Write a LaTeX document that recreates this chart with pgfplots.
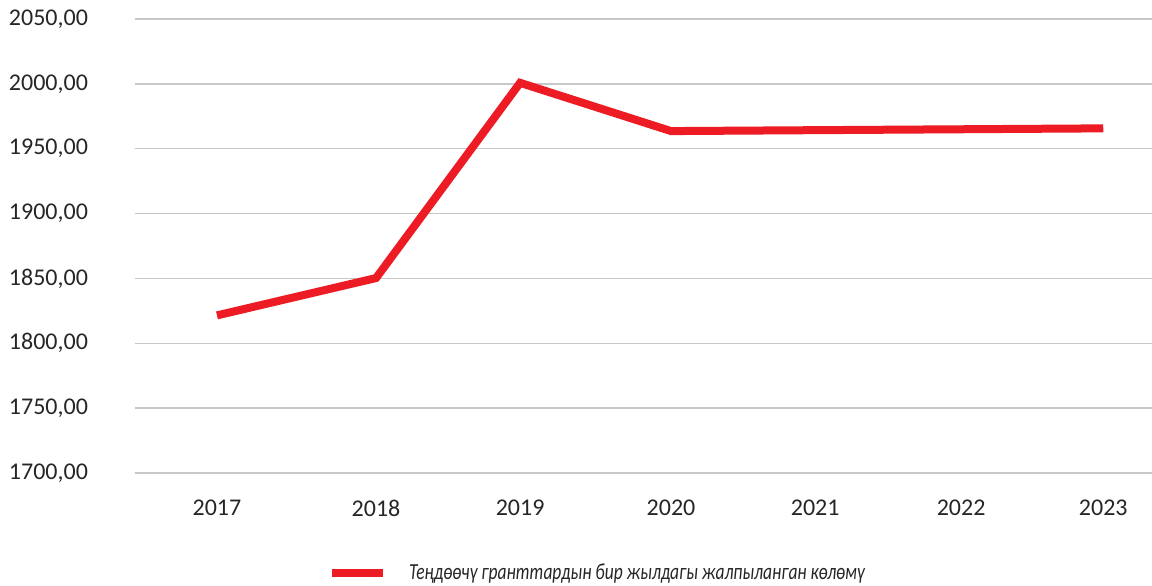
\documentclass[border=0pt]{standalone}
\usepackage{fontspec}
\setmainfont{Carlito}
\usepackage{pgfplots}
\pgfplotsset{compat=1.18}
\definecolor{linered}{HTML}{ED1C24}
\definecolor{gridgray}{HTML}{C8C8C8}
\definecolor{txt}{HTML}{262626}

\begin{document}
\begin{tikzpicture}[x=0.5pt,y=0.5pt]
\useasboundingbox (0,0) rectangle (1152,585);
\begin{axis}[
    at={(67.5pt,56pt)}, anchor=south west,
    scale only axis, width=508.5pt, height=227pt,
    xmin=-0.555, xmax=6.33,
    ymin=1700, ymax=2050,
    ytick={1700,1750,...,2050},
    xtick={0,1.077,2.052,3.074,4.05,5.038,6},
    xticklabels={2017,2018,2019,2020,2021,2022,2023},
    axis line style={draw=none},
    major tick style={draw=none},
    ymajorgrids, grid style={gridgray, line width=0.7pt},
    tick label style={font=\fontsize{12}{14}\selectfont, text=txt},
    yticklabel style={xshift=-20pt},
    xticklabel style={yshift=-10pt},
    /pgf/number format/.cd, fixed, fixed zerofill, precision=2, use comma, 1000 sep={}, assume math mode=true,
    /pgfplots/.cd,
    legend style={at={(0.4558,-0.220)}, anchor=center, draw=none, fill=none,
        font=\fontsize{11.5}{13}\selectfont\itshape, text=txt,
        /tikz/every even column/.append style={column sep=0pt}},
    legend image code/.code={\draw[linered, line width=4pt] (0pt,0pt) -- (25.5pt,0pt);},
    legend cell align=left,
]
\addplot[linered, line width=4pt, mark=none] coordinates {
    (0,1821.5) (1.077,1850.3) (2.052,2000.8) (3.074,1963.6) (4.05,1964.3) (5.038,1965.0) (6,1965.7)
};
\addlegendentry{\hspace{9pt}\scalebox{0.76}[1]{Теңдөөчү гранттардын бир жылдагы жалпыланган көлөмү}}
\end{axis}
\end{tikzpicture}
\end{document}
